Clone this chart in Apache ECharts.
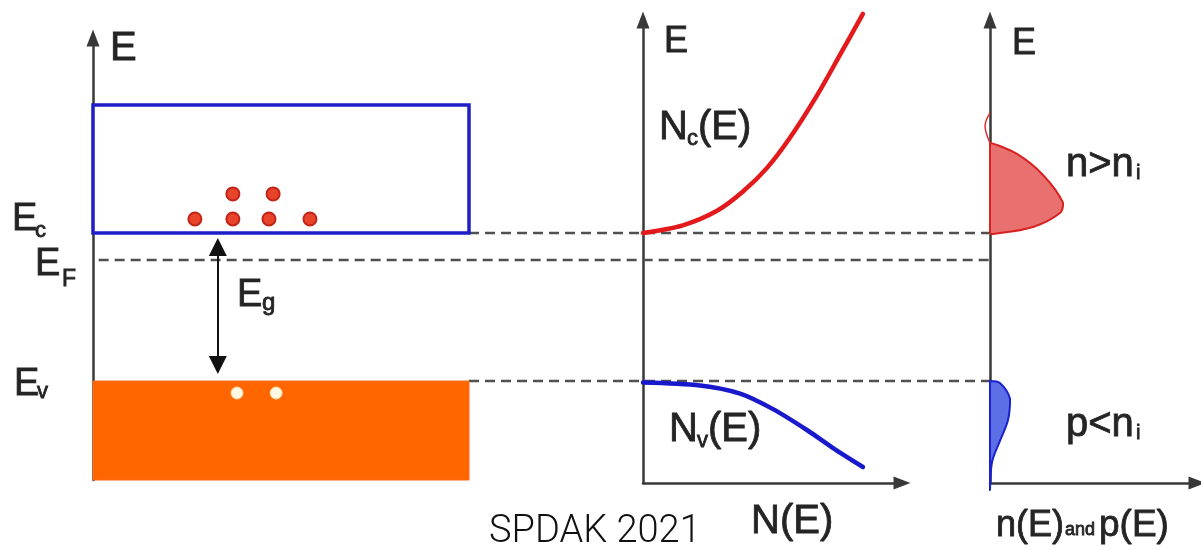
<!DOCTYPE html>
<html><head><meta charset="utf-8">
<script src="https://cdn.jsdelivr.net/npm/echarts@6/dist/echarts.min.js"></script>
<style>html,body{margin:0;padding:0;background:#fff}#c{width:1201px;height:549px}</style>
</head><body><div id="c"></div>
<script>
// ---------- data (energy units: Ev = 0, Ec = 1) ----------
const E_V = 0;
const E_C = 1;
const E_F = 0.818;
const CB_TOP = 1.865;
const VB_BOTTOM = -0.669;
const bandX = [0, 1];
const electronX = [0.271, 0.372, 0.468, 0.577, 0.372, 0.479];
const electronE = [1.095, 1.095, 1.095, 1.095, 1.264, 1.264];
const holeX = [0.383, 0.487];
const holeE = [-0.081, -0.081];
const gapArrowX = 0.332;
const gapArrowE = [0.905, 0.108];   // arrow ends (just inside Ec and Ev)
// density of states N(E)
const ncN = [0, 0.154, 0.286, 0.386, 0.479, 0.568, 0.672, 0.761, 0.849];
const ncE = [1.0, 1.052, 1.150, 1.280, 1.440, 1.645, 1.930, 2.205, 2.480];
const nvN = [0, 0.220, 0.375, 0.502, 0.633, 0.734, 0.849];
const nvE = [-0.01, -0.030, -0.085, -0.190, -0.331, -0.453, -0.581];
// carrier distributions n(E), p(E)
const nTailX = [0, -0.024, 0];
const nTailE = [1.811, 1.723, 1.608];
const nX = [0, 0.130, 0.256, 0.353, 0.338, 0.208, 0.014, 0];
const nE = [1.608, 1.534, 1.392, 1.203, 1.135, 1.041, 0.993, 1.0];
const pX = [0, 0.048, 0.097, 0.087, 0.048, 0.010, 0];
const pE = [0, -0.0135, -0.122, -0.264, -0.405, -0.547, -0.736];

// ---------- layout ----------
const K = 148, EV_PX = 381;            // px per energy unit, pixel row of Ev
function yr(topPx, botPx) { return { min: (EV_PX - botPx) / K, max: (EV_PX - topPx) / K }; }
const X_END = 897 / 376;               // right-panel axis position in band-width units
const AX = { color: '#383838', width: 2.5 };
const FONT = '"Liberation Sans", Arial, sans-serif';

const zip = (a, b) => a.map((v, i) => [v, b[i]]);

function axisArrow(show) {
  return { show: show, onZero: false, symbol: ['none', 'triangle'], symbolSize: [13, 17], lineStyle: AX };
}
function baseAxis(extra) {
  return Object.assign({ type: 'value', axisTick: { show: false }, axisLabel: { show: false }, splitLine: { show: false } }, extra);
}

const ra = yr(38, 480), rb = yr(20, 483);

const annotations = [
  ['E', 110, 49, 40],
  ['E', 12, 220, 38], ['c', 35, 231, 22],
  ['E', 35, 265, 38], ['F', 62, 280, 23],
  ['E', 14, 385, 38], ['v', 37, 392, 22],
  ['E', 237, 296, 38], ['g', 262, 303, 24],
  ['E', 664, 42, 36],
  ['N', 659, 128, 40], ['c', 687, 139, 22], ['(E)', 698, 128, 40],
  ['N', 669, 430, 40], ['v', 697, 441, 22], ['(E)', 708, 430, 40],
  ['N(E)', 751, 522, 40],
  ['E', 1012, 44, 36],
  ['n>n', 1066, 165, 40], ['i', 1136, 173, 20],
  ['p<n', 1066, 425, 40], ['i', 1136, 433, 20],
  ['n(E)', 996, 526, 36], ['and', 1065, 530, 18], ['p(E)', 1099, 526, 37]
];

const graphic = annotations.map(a => ({
  type: 'text', x: a[1], y: a[2], z: 100, silent: true,
  style: { text: a[0], fontSize: a[3], fontFamily: FONT, fill: '#242424', stroke: '#242424', lineWidth: 0.8, align: 'left', verticalAlign: 'middle' }
}));
graphic.push({
  type: 'text', x: 489, y: 532, z: 100, silent: true,
  style: { text: 'SPDAK 2021', fontSize: 38, fontFamily: 'Roboto, sans-serif', fontWeight: 300, fill: '#111', align: 'left', verticalAlign: 'middle' }
});

function polyRender(xs, es, style, closed, smooth) {
  return function (params, api) {
    if (params.dataIndex !== 0) return null;
    const pts = xs.map((x, i) => api.coord([x, es[i]]));
    let mnx = Infinity, mny = Infinity, mxx = -Infinity, mxy = -Infinity;
    pts.forEach(p => { mnx = Math.min(mnx, p[0]); mny = Math.min(mny, p[1]); mxx = Math.max(mxx, p[0]); mxy = Math.max(mxy, p[1]); });
    return {
      type: closed ? 'polygon' : 'polyline',
      shape: { points: pts, smooth: smooth == null ? 0.35 : smooth, smoothConstraint: [[mnx, mny], [mxx, mxy]] },
      style: style
    };
  };
}

const dashStyle = { color: '#505050', width: 2.6, type: [10, 6] };

const option = {
  backgroundColor: '#fff',
  animation: false,
  grid: [
    { left: 93, top: 38, width: 897, height: 442 },
    { left: 643, top: 20, width: 259, height: 463 },
    { left: 990, top: 20, width: 207, height: 463 }
  ],
  xAxis: [
    baseAxis({ gridIndex: 0, min: 0, max: X_END, show: false }),
    baseAxis({ gridIndex: 1, min: 0, max: 1, axisLine: axisArrow(true) }),
    baseAxis({ gridIndex: 2, min: 0, max: 1, axisLine: axisArrow(true) })
  ],
  yAxis: [
    baseAxis({ gridIndex: 0, min: ra.min, max: ra.max, axisLine: axisArrow(true) }),
    baseAxis({ gridIndex: 1, min: rb.min, max: rb.max, axisLine: axisArrow(true) }),
    baseAxis({ gridIndex: 2, min: rb.min, max: rb.max, axisLine: axisArrow(true) })
  ],
  graphic: graphic,
  series: [
    { type: 'line', xAxisIndex: 0, yAxisIndex: 0, data: [[bandX[1], E_C], [X_END, E_C]], showSymbol: false, symbol: 'none', lineStyle: dashStyle, z: 1, silent: true },
    { type: 'line', xAxisIndex: 0, yAxisIndex: 0, data: [[0.015, E_F], [X_END, E_F]], showSymbol: false, symbol: 'none', lineStyle: dashStyle, z: 1, silent: true },
    { type: 'line', xAxisIndex: 0, yAxisIndex: 0, data: [[bandX[1], E_V], [X_END, E_V]], showSymbol: false, symbol: 'none', lineStyle: dashStyle, z: 1, silent: true },
    {
      type: 'custom', xAxisIndex: 0, yAxisIndex: 0, z: 3, silent: true,
      data: [[E_C, CB_TOP, 0], [VB_BOTTOM, E_V, 1]],
      renderItem: function (params, api) {
        const lo = api.value(0), hi = api.value(1), kind = api.value(2);
        const p0 = api.coord([bandX[0], hi]);
        const p1 = api.coord([bandX[1], lo]);
        const style = kind === 0
          ? { fill: '#fff', stroke: '#1e1ec8', lineWidth: 3.5 }
          : { fill: '#ff6600', stroke: '#ff6a1a', lineWidth: 1 };
        return { type: 'rect', shape: { x: p0[0], y: p0[1], width: p1[0] - p0[0], height: p1[1] - p0[1] }, style: style };
      }
    },
    {
      type: 'scatter', xAxisIndex: 0, yAxisIndex: 0, z: 5, silent: true,
      data: zip(electronX, electronE), symbolSize: 13,
      itemStyle: { color: '#e8442c', borderColor: '#c42418', borderWidth: 2, opacity: 1 }
    },
    {
      type: 'scatter', xAxisIndex: 0, yAxisIndex: 0, z: 5, silent: true,
      data: zip(holeX, holeE), symbolSize: 12,
      itemStyle: { color: '#fff8e2', borderColor: '#ffd9a0', borderWidth: 1, opacity: 1 },
      markLine: {
        silent: true, symbol: ['triangle', 'triangle'], symbolSize: 18,
        label: { show: false },
        lineStyle: { color: '#111', width: 2, type: 'solid' },
        data: [[{ coord: [gapArrowX, gapArrowE[0]] }, { coord: [gapArrowX, gapArrowE[1]] }]]
      }
    },
    {
      type: 'custom', xAxisIndex: 1, yAxisIndex: 1, z: 4, silent: true, clip: false,
      data: zip(ncN, ncE),
      renderItem: polyRender(ncN, ncE, { fill: 'none', stroke: '#e3191b', lineWidth: 4.5, lineCap: 'round' }, false, 0.3)
    },
    {
      type: 'custom', xAxisIndex: 1, yAxisIndex: 1, z: 4, silent: true, clip: false,
      data: zip(nvN, nvE),
      renderItem: polyRender(nvN, nvE, { fill: 'none', stroke: '#1818cc', lineWidth: 4.5, lineCap: 'round' }, false, 0.3)
    },
    {
      type: 'custom', xAxisIndex: 2, yAxisIndex: 2, z: 4, silent: true, clip: false,
      data: zip(nX, nE),
      renderItem: polyRender(nX, nE, { fill: '#e8716f', stroke: '#d82222', lineWidth: 2 }, true)
    },
    {
      type: 'custom', xAxisIndex: 2, yAxisIndex: 2, z: 4, silent: true, clip: false,
      data: zip(nTailX, nTailE),
      renderItem: polyRender(nTailX, nTailE, { fill: 'none', stroke: '#e03030', lineWidth: 1.5 }, false)
    },
    {
      type: 'custom', xAxisIndex: 2, yAxisIndex: 2, z: 4, silent: true, clip: false,
      data: zip(pX, pE),
      renderItem: polyRender(pX, pE, { fill: '#5d6fe6', stroke: '#1a22cc', lineWidth: 2 }, true)
    }
  ]
};

const chart = echarts.init(document.getElementById('c'), null, { renderer: 'canvas' });
chart.setOption(option);
</script>
</body></html>
